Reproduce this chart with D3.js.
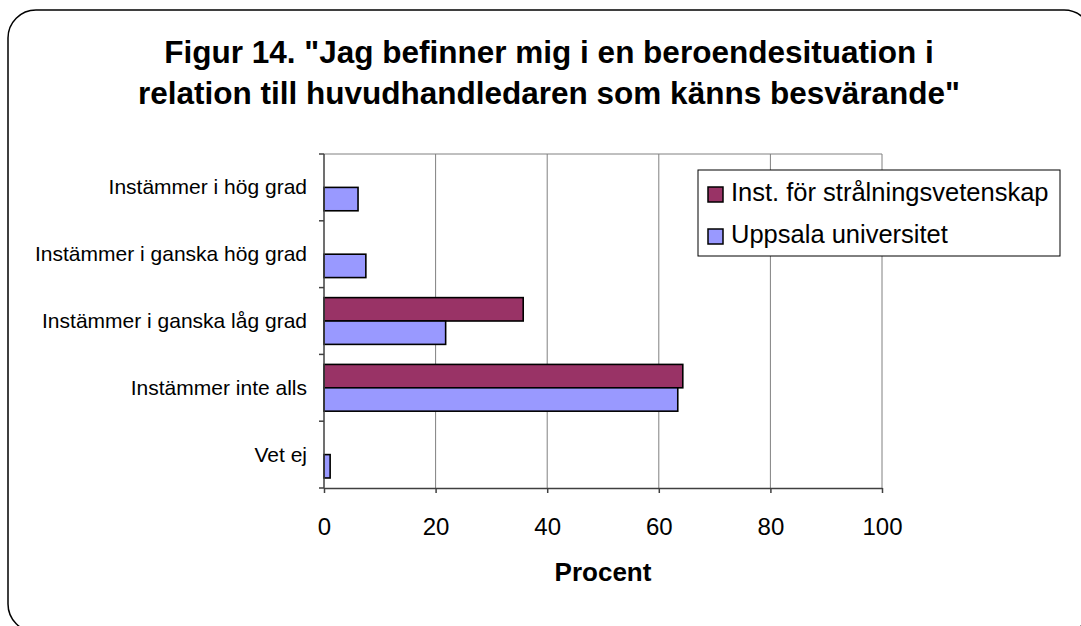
<!DOCTYPE html>
<html><head><meta charset="utf-8">
<script src="https://cdn.jsdelivr.net/npm/d3@7"></script>
<style>
body{margin:0;background:#fff}
svg{display:block}
text{font-family:"Liberation Sans",Arial,sans-serif;fill:#000}
</style>
</head><body><svg id="c" width="1081" height="626"></svg>
<script>
const categories = ["Instämmer i hög grad","Instämmer i ganska hög grad","Instämmer i ganska låg grad","Instämmer inte alls","Vet ej"];
const seriesNames = ["Inst. för strålningsvetenskap","Uppsala universitet"];
const instValues = [0, 0, 35.7, 64.3, 0];
const uuValues = [6.1, 7.5, 21.8, 63.4, 1.1];
const xTicks = [0, 20, 40, 60, 80, 100];
const titleLines = ["Figur 14. \"Jag befinner mig i en beroendesituation i", "relation till huvudhandledaren som känns besvärande\""];
const xAxisTitle = "Procent";
const seriesColors = ["#993366", "#9999FF"];

const svg = d3.select("#c");
const L = 324, R = 882, T = 154, B = 488;

// outer frame
svg.append("rect").attr("x",8).attr("y",10).attr("width",1084).attr("height",622)
  .attr("rx",28).attr("ry",28).attr("fill","#fff").attr("stroke","#000").attr("stroke-width",1.5);

// title
const title = svg.append("text").attr("text-anchor","middle").attr("font-weight","bold").attr("font-size",31.5);
titleLines.forEach((t,i)=>title.append("tspan").attr("x",549).attr("y",63+i*41).text(t));

const x = d3.scaleLinear().domain([0,100]).range([L,R]);
const y = d3.scaleBand().domain(categories).range([T,B]).paddingInner(0.3).paddingOuter(0.15);
const ys = d3.scaleBand().domain(seriesNames).range([0,y.bandwidth()]);

// plot border top & gridlines
svg.append("line").attr("x1",L).attr("x2",R).attr("y1",T).attr("y2",T).attr("stroke","#808080").attr("stroke-width",1);
svg.append("g").selectAll("line").data(xTicks.slice(1)).join("line")
  .attr("x1",d=>x(d)).attr("x2",d=>x(d)).attr("y1",T).attr("y2",B)
  .attr("stroke","#808080").attr("stroke-width",1);

// bars
const rows = categories.map((c,i)=>({c, vals:[instValues[i], uuValues[i]]}));
const g = svg.append("g");
rows.forEach(r=>{
  r.vals.forEach((v,j)=>{
    if(v<=0) return;
    g.append("rect").attr("x",x(0)).attr("y",y(r.c)+ys(seriesNames[j]))
      .attr("width",x(v)-x(0)).attr("height",ys.bandwidth())
      .attr("fill",seriesColors[j]).attr("stroke","#000").attr("stroke-width",1.6);
  });
});

// x axis
const xAxis = svg.append("g").attr("transform",`translate(0,${B})`)
  .call(d3.axisBottom(x).tickValues(xTicks).tickSize(5).tickPadding(25).tickSizeOuter(0));
xAxis.select(".domain").attr("stroke","#404040").attr("stroke-width",1.5);
xAxis.selectAll(".tick line").attr("stroke","#404040").attr("stroke-width",1.5);
xAxis.selectAll(".tick text").attr("font-size",24).attr("font-family","'Liberation Sans',Arial,sans-serif").attr("fill","#000");

// y axis
svg.append("line").attr("x1",L).attr("x2",L).attr("y1",T).attr("y2",B).attr("stroke","#404040").attr("stroke-width",1.5);
svg.append("g").selectAll("line").data([T].concat(categories.slice(1).map(c=>y(c)-y.step()*y.paddingInner()/2)).concat([B])).join("line")
  .attr("x1",L-5).attr("x2",L).attr("y1",d=>d).attr("y2",d=>d).attr("stroke","#404040").attr("stroke-width",1.5);
svg.append("g").selectAll("text").data(categories).join("text")
  .attr("x",307).attr("y",d=>y(d)+y.bandwidth()/2).attr("dy","0.33em")
  .attr("text-anchor","end").attr("font-size",21).text(d=>d);

// x axis title
svg.append("text").attr("x",603).attr("y",581).attr("text-anchor","middle")
  .attr("font-weight","bold").attr("font-size",26).text(xAxisTitle);

// legend
const lg = svg.append("g");
lg.append("rect").attr("x",698).attr("y",170).attr("width",362).attr("height",86)
  .attr("fill","#fff").attr("stroke","#000").attr("stroke-width",1);
seriesNames.forEach((s,i)=>{
  lg.append("rect").attr("x",708).attr("y",187+i*42).attr("width",15).attr("height",15)
    .attr("fill",seriesColors[i]).attr("stroke","#000").attr("stroke-width",1.5);
  lg.append("text").attr("x",731).attr("y",201+i*42).attr("font-size",25.5).text(s);
});
</script></body></html>
